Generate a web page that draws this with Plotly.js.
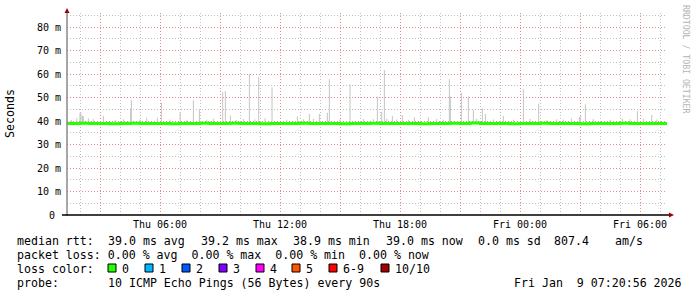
<!DOCTYPE html>
<html><head><meta charset="utf-8">
<script src="https://cdn.plot.ly/plotly-3.0.1.min.js"></script>
<style>html,body{margin:0;padding:0;background:#fff;}#chart{width:697px;height:297px;}</style>
</head><body><div id="chart"></div>
<script>
// ---- data ----
const rangeStart = '2026-01-08 01:20:56';
const rangeEnd   = '2026-01-09 07:20:56';

const medianStart = '2026-01-08 01:00';
const medianStepMin = 30;
const medianValues = [
 39.0,39.0,39.1,39.0,39.0,38.9,39.0,39.1,39.0,39.0,39.0,38.9,39.0,39.0,39.1,39.0,
 39.0,39.1,39.0,39.0,38.9,39.0,39.0,39.0,39.1,39.0,39.0,39.0,38.9,39.0,39.0,39.1,
 39.0,39.0,39.0,39.0,38.9,39.0,39.0,39.1,39.0,39.2,39.0,39.0,39.0,38.9,
 39.0,39.0,39.1,39.0,39.0,39.0,38.9,39.0,39.0,39.0,39.1,39.0,39.0,39.0,39.0,39.0
];

const spikeTimes = [
 '2026-01-08 01:35','2026-01-08 01:50','2026-01-08 02:00','2026-01-08 02:03','2026-01-08 02:07',
 '2026-01-08 02:10','2026-01-08 02:25','2026-01-08 02:40','2026-01-08 03:10','2026-01-08 03:45',
 '2026-01-08 04:10','2026-01-08 04:32','2026-01-08 04:34','2026-01-08 05:00','2026-01-08 05:20',
 '2026-01-08 05:52','2026-01-08 06:04','2026-01-08 06:30','2026-01-08 07:00','2026-01-08 07:20',
 '2026-01-08 07:40','2026-01-08 07:58','2026-01-08 08:20','2026-01-08 08:40','2026-01-08 09:08',
 '2026-01-08 09:16','2026-01-08 09:31','2026-01-08 09:50','2026-01-08 10:10','2026-01-08 10:28',
 '2026-01-08 10:45','2026-01-08 10:56','2026-01-08 11:15','2026-01-08 11:36','2026-01-08 12:20',
 '2026-01-08 12:52','2026-01-08 13:10','2026-01-08 13:28','2026-01-08 13:40','2026-01-08 13:58',
 '2026-01-08 14:22','2026-01-08 14:28','2026-01-08 15:00','2026-01-08 15:30','2026-01-08 16:10',
 '2026-01-08 16:40','2026-01-08 16:52','2026-01-08 17:05','2026-01-08 17:13','2026-01-08 17:20',
 '2026-01-08 17:37','2026-01-08 17:50','2026-01-08 18:07','2026-01-08 18:25','2026-01-08 18:43',
 '2026-01-08 19:25','2026-01-08 19:50','2026-01-08 20:10','2026-01-08 20:28','2026-01-08 20:31',
 '2026-01-08 21:04','2026-01-08 21:25','2026-01-08 21:40','2026-01-08 21:50','2026-01-08 22:07',
 '2026-01-08 22:16','2026-01-08 22:40','2026-01-08 23:10','2026-01-08 23:40','2026-01-09 00:10',
 '2026-01-09 00:30','2026-01-09 00:56','2026-01-09 01:20','2026-01-09 01:50','2026-01-09 02:10',
 '2026-01-09 02:34','2026-01-09 02:58','2026-01-09 03:01','2026-01-09 03:16','2026-01-09 03:40',
 '2026-01-09 04:30','2026-01-09 05:07','2026-01-09 05:30','2026-01-09 05:52','2026-01-09 06:10',
 '2026-01-09 06:35','2026-01-09 06:50'
];
const spikeMax = [
 40.6,41.1,43.5,43.3,42.3,
 42.0,41.2,40.8,42.1,40.5,
 40.8,45.4,48.9,40.6,41.4,
 41.4,47.8,40.7,43.5,40.6,
 48.9,45.0,40.5,41.0,52.5,
 52.8,42.4,40.6,40.9,60.0,
 40.7,58.7,41.2,54.3,40.6,
 42.0,40.8,43.0,41.0,43.0,
 43.5,57.9,40.7,55.7,40.9,
 40.8,50.4,44.0,61.7,41.0,
 42.1,40.7,42.6,40.6,41.6,
 41.6,40.9,40.6,57.9,50.4,
 52.0,50.4,44.7,41.0,45.5,
 43.0,40.7,42.1,40.6,53.5,
 40.9,47.5,40.6,40.8,40.7,
 41.1,41.6,42.0,47.2,40.9,
 40.6,41.1,40.8,44.3,41.0,
 42.6,40.7
];
const smokeBase = 38.6;

const xTickVals = ['2026-01-08 03:00','2026-01-08 06:00','2026-01-08 09:00','2026-01-08 12:00','2026-01-08 15:00',
 '2026-01-08 18:00','2026-01-08 21:00','2026-01-09 00:00','2026-01-09 03:00','2026-01-09 06:00'];
const xTickText = ['','Thu 06:00','','Thu 12:00','','Thu 18:00','','Fri 00:00','','Fri 06:00'];
const yTickVals = [0,10,20,30,40,50,60,70,80];
const yTickText = ['0\u00a0','10 m','20 m','30 m','40 m','50 m','60 m','70 m','80 m'];

const lossLabels = ['0','1','2','3','4','5','6-9','10/10'];
const lossColors = ['#26ff00','#00b8ff','#0059ff','#7e00ff','#ff00ff','#ff5500','#ff0000','#a10000'];

// ---- build ----
const medianTimes = medianValues.map((v,i)=>{
  const d = new Date(Date.parse(medianStart.replace(' ','T')+':00Z') + i*medianStepMin*60000);
  return d.toISOString().slice(0,16).replace('T',' ');
});

const traces = [
  {type:'bar', x:spikeTimes, y:spikeMax.map(v=>v-smokeBase), base:smokeBase,
   width:180000, marker:{color:'#c4c4c4', line:{width:0}}, hoverinfo:'skip'},
  {type:'scatter', mode:'lines', x:medianTimes, y:medianValues,
   line:{color:'#26ff00', width:3, shape:'hv'}, hoverinfo:'skip'}
];

const PL=67, PT=13, PW=600, PH=202;
const px = x => (x-PL)/PW;
const py = y => (PT+PH-y)/PH;
const nb = s => s.replace(/ /g,'\u00a0');
const MONO = 'DejaVu Sans Mono';
const txtFont = {family:MONO, size:11.6, color:'#000'};

const ann = [];
function T(x,y,s,extra){ ann.push(Object.assign({xref:'paper',yref:'paper',x:px(x),y:py(y),text:nb(s),
  showarrow:false,xanchor:'left',yanchor:'middle',font:txtFont,borderpad:0}, extra||{})); }

T(16,241,'median rtt:');
T(107,241,'39.0 ms avg');
T(200,241,'39.2 ms max');
T(292,241,'38.9 ms min');
T(385,241,'39.0 ms now');
T(477,241,'0.0 ms sd');
T(553,241,'807.4');
T(614,241,'am/s');
T(16,255,'packet loss: 0.00 % avg  0.00 % max  0.00 % min  0.00 % now');
T(16,269,'loss color:');
const boxX = [108,145,182,219,256,292,329,381];
const shapes = [];
lossLabels.forEach((l,i)=>{
  shapes.push({type:'rect',xref:'paper',yref:'paper',x0:px(boxX[i]),x1:px(boxX[i]+8),y0:py(272),y1:py(264),
    fillcolor:lossColors[i],line:{color:'#000',width:1}});
  T(boxX[i]+13,269,l);
});
T(16,283,'probe:');
T(107,283,'10 ICMP Echo Pings (56 Bytes) every 90s');
T(513,283,'Fri Jan  9 07:20:56 2026');
ann.push({xref:'paper',yref:'paper',x:px(10),y:py(114),text:'Seconds',textangle:-90,showarrow:false,
  xanchor:'center',yanchor:'middle',font:txtFont});
ann.push({xref:'paper',yref:'paper',x:px(686),y:py(59),text:nb('RRDTOOL / TOBI OETIKER'),textangle:90,showarrow:false,
  xanchor:'center',yanchor:'middle',font:{family:MONO,size:8.2,color:'#b4b4b4'}});

// axis lines and arrows
shapes.push({type:'line',xref:'paper',yref:'paper',x0:px(67),x1:px(67),y0:py(216),y1:py(12),line:{color:'#8a8a8a',width:1.5},layer:'above'});
shapes.push({type:'line',xref:'paper',yref:'paper',x0:px(62),x1:px(670),y0:py(215),y1:py(215),line:{color:'#000',width:1.5},layer:'above'});
shapes.push({type:'path',xref:'paper',yref:'paper',
  path:`M ${px(64.5)} ${py(13)} L ${px(67)} ${py(8)} L ${px(69.5)} ${py(13)} Z`,fillcolor:'#a00000',line:{width:0},layer:'above'});
shapes.push({type:'path',xref:'paper',yref:'paper',
  path:`M ${px(669)} ${py(212.5)} L ${px(674)} ${py(215)} L ${px(669)} ${py(217.5)} Z`,fillcolor:'#a00000',line:{width:0},layer:'above'});

const RED='#e08e8e', GRAY='#c0c0c0', DASH='1px,2px';
const layout = {
  width:697, height:297, margin:{l:PL,r:697-PL-PW,t:PT,b:297-PT-PH},
  paper_bgcolor:'#fff', plot_bgcolor:'#fff', showlegend:false, barmode:'overlay',
  font:{family:MONO,size:10,color:'#000'},
  xaxis:{type:'date', range:[rangeStart,rangeEnd], tickmode:'array', tickvals:xTickVals, ticktext:xTickText,
    showgrid:true, gridcolor:RED, griddash:DASH, gridwidth:1, zeroline:false, showline:false, ticks:'',
    tickfont:{family:MONO,size:10,color:'#000'}, ticklabelstandoff:2,
    minor:{tickmode:'linear', tick0:'2026-01-08 00:00', dtick:3600000, showgrid:true, gridcolor:GRAY, griddash:DASH, gridwidth:1, ticks:''}},
  yaxis:{range:[0,86], tickmode:'array', tickvals:yTickVals, ticktext:yTickText,
    showgrid:true, gridcolor:RED, griddash:DASH, gridwidth:1, zeroline:false, showline:false, ticks:'',
    tickfont:{family:MONO,size:10,color:'#000'}, ticklabelstandoff:5,
    minor:{tickmode:'linear', tick0:0, dtick:5, showgrid:true, gridcolor:GRAY, griddash:DASH, gridwidth:1, ticks:''}},
  annotations:ann, shapes:shapes
};
Plotly.newPlot('chart', traces, layout, {staticPlot:true, displayModeBar:false});
</script></body></html>
